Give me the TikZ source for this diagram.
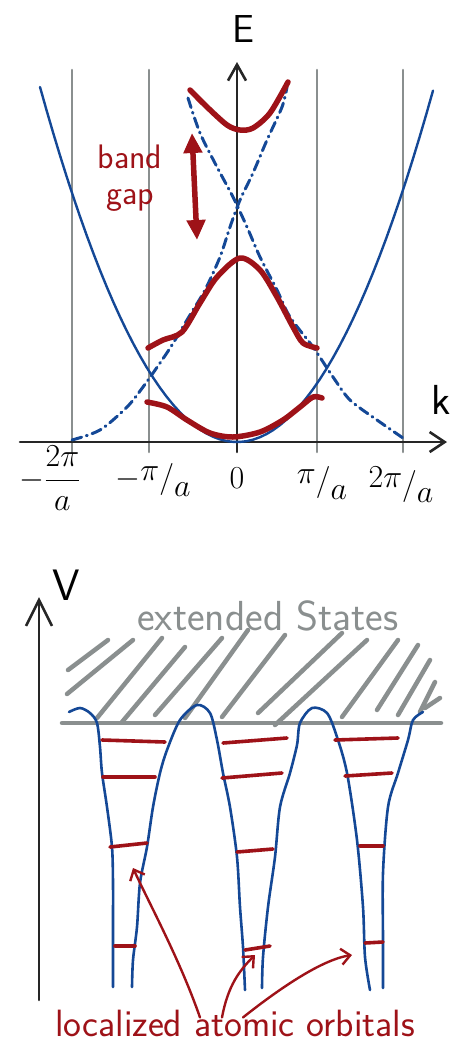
\RequirePackage{fix-cm}
\documentclass[tikz,border=0pt]{standalone}
\usepackage{amsmath}
\usetikzlibrary{arrows.meta}
\definecolor{bandred}{RGB}{158,18,24}
\definecolor{waveblue}{RGB}{20,72,150}
\definecolor{gridgrey}{RGB}{138,143,143}
\newcommand{\kfrac}[2]{\raisebox{.5ex}{$#1$}/\raisebox{-.6ex}{$#2$}}

\begin{document}
\begin{tikzpicture}[x=1pt,y=-1pt,line cap=round,line join=round,
axis/.style={line width=2.6pt,black!85},
zone line/.style={line width=2.6pt,gridgrey},
free band/.style={line width=2.4pt,waveblue},
folded band/.style={line width=3pt,waveblue,dash pattern=on 10pt off 5pt on 1pt off 5pt},
gap band/.style={line width=5.5pt,bandred},
well/.style={line width=2.6pt,waveblue},
level/.style={line width=3.6pt,bandred},
hatch/.style={line width=4.5pt,gridgrey},
pointer/.style={line width=2.4pt,bandred,-{Straight Barb[length=9pt,width=16pt]}},
tick label/.style={font=\fontsize{32}{34}\selectfont,inner sep=0pt},
hand label/.style={font=\sffamily\fontsize{34}{36}\selectfont,inner sep=0pt}]
\useasboundingbox (0,0) rectangle (452,1042);

% band structure
\foreach \kx in {72,149,317,403}
  \draw[zone line] (\kx,70) -- (\kx,452);
\draw[axis,-{Straight Barb[length=15pt,width=20pt]}] (20,442) -- (447,442);
\draw[axis,-{Straight Barb[length=16pt,width=18pt]}] (237,452) -- (237,62);
\node[hand label,font=\sffamily\fontsize{39}{41}\selectfont] (E) at (243,29) {E};
\node[hand label,font=\sffamily\fontsize{42}{44}\selectfont,anchor=east] (k) at (451,400) {k};

\draw[free band] plot[domain=40:433,samples=60] (\x,{442-355*((\x-237)/197)^2});
\draw[folded band] plot[smooth] coordinates {(188,98) (200,133) (217,167) (233,197) (247,227) (260,257) (277,290) (290,317) (313,347) (333,377) (350,400) (377,420) (403,438)};
\draw[folded band] plot[smooth] coordinates {(72,440) (100,430) (127,407) (143,387) (160,363) (172,345) (190,315) (205,290) (220,257) (230,227) (240,200) (253,173) (267,140) (282,107) (287,87)};

\draw[gap band] plot[smooth] coordinates {(190,90) (207,107) (227,125) (240,130) (253,128) (270,113) (288,82)};
\draw[gap band] plot[smooth] coordinates {(148,348) (163,340) (182,332) (200,303) (217,277) (240,258) (260,270) (277,297) (293,327) (303,343) (317,348)};
\draw[gap band] plot[smooth] coordinates {(147,402) (167,407) (187,420) (210,433) (233,437) (260,432) (283,420) (300,407) (313,397) (322,398)};

\coordinate (gap top) at (192,133);
\coordinate (gap bottom) at (197,240);
\draw[gap band,{Triangle[length=20pt,width=18pt]}-{Triangle[length=20pt,width=18pt]}] (gap top) -- (gap bottom);
\node[hand label,text=bandred,align=center] (gaplabel) at (130,178) {band\\gap};

\node[tick label] (m2pi) at (50,478) {$-\dfrac{2\pi}{a}$};
\node[tick label] (m1pi) at (153,480) {$-$\kfrac{\pi}{a}};
\node[tick label] (zero) at (237,478) {$0$};
\node[tick label] (p1pi) at (322,483) {\kfrac{\pi}{a}};
\node[tick label] (p2pi) at (401,485) {\kfrac{2\pi}{a}};

% periodic potential
\draw[axis,-{Straight Barb[length=26pt,width=26pt]}] (39,1000) -- (39,597);
\node[hand label,font=\sffamily\fontsize{44}{46}\selectfont] (V) at (66,585) {V};
\node[hand label,text=gridgrey,anchor=base,font=\sffamily\fontsize{42}{44}\selectfont] (extended) at (268,630) {extended States};

\foreach \xa/\ya/\xb/\yb in {68/670/108/640, 67/694/133/640, 97/718/162/638, 122/722/185/647,
  155/715/222/638, 185/718/248/630, 222/717/285/635, 258/713/342/633, 275/725/367/640,
  342/717/398/640, 377/710/418/645, 398/715/430/660, 420/712/435/682, 425/708/440/698}
  \draw[hatch] (\xa,\ya) -- (\xb,\yb);
\draw[hatch] (62,723) -- (441,723);

\draw[well] plot[smooth] coordinates {(69,712) (80,708) (90,713) (97,723) (100,747) (102,773) (107,807) (112,847) (113,883) (113,927) (113,987)};
\draw[well] plot[smooth] coordinates {(132,987) (133,960) (137,927) (140,883) (147,847) (153,807) (160,773) (167,750) (180,720) (197,705) (210,713) (217,740) (223,773) (230,807) (237,857) (240,907) (243,947) (245,990)};
\draw[well] plot[smooth] coordinates {(262,988) (263,957) (268,907) (275,857) (280,807) (290,773) (297,745) (300,723) (312,708) (327,713) (337,737) (347,773) (357,840) (363,907) (365,957) (370,990)};
\draw[well] plot[smooth] coordinates {(383,988) (383,940) (383,873) (388,807) (398,773) (408,740) (413,720) (423,712)};

\foreach \xa/\ya/\xb/\yb in {102/740/165/742, 103/777/155/777, 110/847/147/843, 115/946/135/946,
  223/743/287/738, 222/778/282/773, 237/852/273/849, 245/950/270/946,
  335/740/398/738, 345/776/392/773, 360/846/383/846, 365/943/383/942}
  \draw[level] (\xa,\ya) -- (\xb,\yb);

\node[hand label,text=bandred,anchor=base,font=\sffamily\fontsize{38}{40}\selectfont] (orbitals) at (235,1036) {localized atomic orbitals};
\coordinate (orb1) at (133,868);
\coordinate (orb2) at (255,955);
\coordinate (orb3) at (352,955);
\draw[pointer] ([xshift=-35pt,yshift=-8pt]orbitals.north) .. controls (180,960) and (150,905) .. (orb1);
\draw[pointer] ([xshift=-13pt,yshift=-8pt]orbitals.north) .. controls (228,985) and (240,970) .. (orb2);
\draw[pointer] ([xshift=8pt,yshift=-8pt]orbitals.north) .. controls (275,992) and (320,960) .. (orb3);
\end{tikzpicture}
\end{document}
